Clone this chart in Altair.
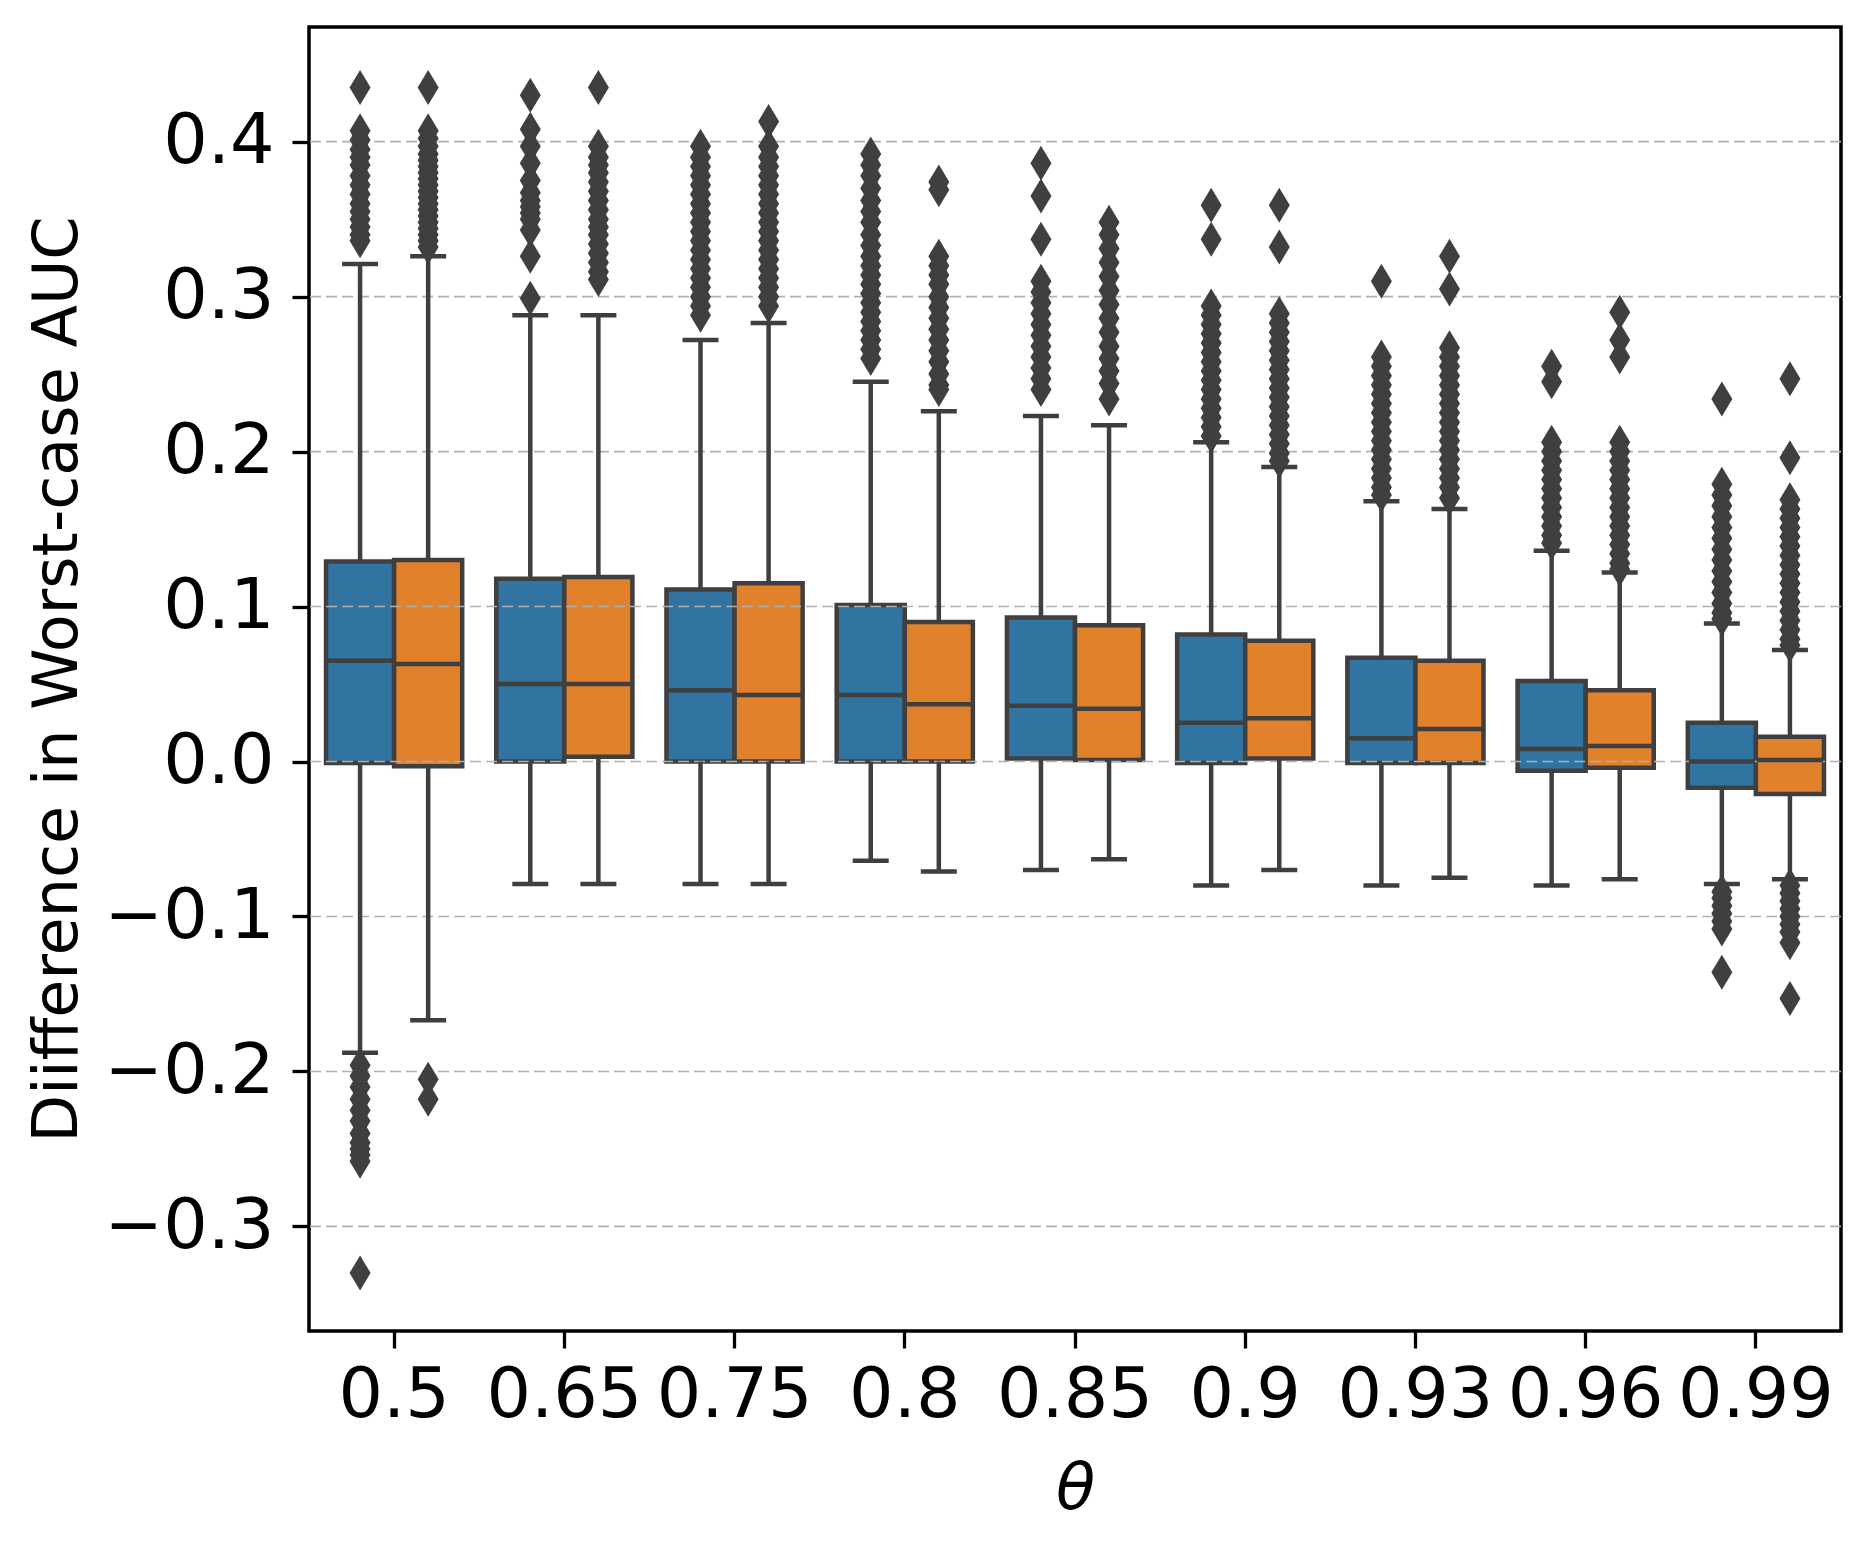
import altair as alt
import pandas as pd

# categories
thetas = ["0.5", "0.65", "0.75", "0.8", "0.85", "0.9", "0.93", "0.96", "0.99"]
hues = ["Method A", "Method B"]
colors = ["#3274a1", "#e1812c"]

# box statistics, series A (blue)
a_q1 = [-0.001, 0.000, 0.000, 0.000, 0.002, -0.001, -0.001, -0.006, -0.017]
a_med = [0.065, 0.050, 0.046, 0.043, 0.036, 0.025, 0.015, 0.008, 0.000]
a_q3 = [0.129, 0.118, 0.111, 0.101, 0.093, 0.082, 0.067, 0.052, 0.025]
a_lo = [-0.188, -0.079, -0.079, -0.064, -0.070, -0.080, -0.080, -0.080, -0.079]
a_hi = [0.321, 0.288, 0.272, 0.245, 0.223, 0.206, 0.168, 0.136, 0.089]

# box statistics, series B (orange)
b_q1 = [-0.003, 0.003, 0.000, 0.000, 0.001, 0.002, -0.001, -0.004, -0.021]
b_med = [0.063, 0.050, 0.043, 0.037, 0.034, 0.028, 0.021, 0.010, 0.001]
b_q3 = [0.130, 0.119, 0.115, 0.090, 0.088, 0.078, 0.065, 0.046, 0.016]
b_lo = [-0.167, -0.079, -0.079, -0.071, -0.063, -0.070, -0.075, -0.076, -0.076]
b_hi = [0.326, 0.288, 0.283, 0.226, 0.217, 0.190, 0.163, 0.122, 0.072]

# outliers, series A
fa_050 = [0.435, 0.407, 0.401, 0.395, 0.39, 0.385, 0.378, 0.372, 0.366, 0.36, 0.355,
          0.35, 0.345, 0.34, 0.336, -0.196, -0.203, -0.21, -0.218, -0.225, -0.232,
          -0.24, -0.246, -0.25, -0.254, -0.258, -0.33]
fa_065 = [0.430, 0.408, 0.397, 0.386, 0.375, 0.367, 0.362, 0.358, 0.354, 0.35, 0.343,
          0.326, 0.299]
fa_075 = [0.397, 0.39, 0.384, 0.378, 0.372, 0.366, 0.36, 0.354, 0.348, 0.342, 0.336,
          0.33, 0.324, 0.318, 0.312, 0.306, 0.3, 0.294, 0.288]
fa_080 = [0.392, 0.385, 0.378, 0.37, 0.362, 0.355, 0.348, 0.34, 0.333, 0.326, 0.32,
          0.314, 0.308, 0.302, 0.296, 0.29, 0.284, 0.278, 0.272, 0.266, 0.26]
fa_085 = [0.386, 0.365, 0.337, 0.31, 0.303, 0.296, 0.289, 0.282, 0.275, 0.268, 0.261,
          0.254, 0.247, 0.24]
fa_090 = [0.359, 0.337, 0.294, 0.288, 0.282, 0.276, 0.27, 0.264, 0.258, 0.252, 0.246,
          0.24, 0.234, 0.228, 0.222, 0.216, 0.21]
fa_093 = [0.31, 0.261, 0.255, 0.249, 0.243, 0.237, 0.231, 0.225, 0.219, 0.213, 0.207,
          0.201, 0.195, 0.189, 0.183, 0.177, 0.172]
fa_096 = [0.255, 0.245, 0.206, 0.2, 0.194, 0.188, 0.182, 0.176, 0.17, 0.164, 0.158,
          0.152, 0.146, 0.141]
fa_099 = [0.234, 0.179, 0.172, 0.165, 0.158, 0.151, 0.144, 0.137, 0.13, 0.123, 0.116,
          0.109, 0.102, 0.096, 0.092, -0.084, -0.088, -0.093, -0.098, -0.103, -0.108,
          -0.136]

# outliers, series B
fb_050 = [0.435, 0.407, 0.402, 0.397, 0.392, 0.388, 0.384, 0.38, 0.376, 0.372, 0.368,
          0.364, 0.36, 0.356, 0.352, 0.348, 0.344, 0.34, 0.336, 0.332, -0.205, -0.218]
fb_065 = [0.435, 0.397, 0.39, 0.385, 0.38, 0.374, 0.368, 0.362, 0.356, 0.35, 0.345,
          0.34, 0.334, 0.328, 0.322, 0.316, 0.311]
fb_075 = [0.413, 0.397, 0.39, 0.384, 0.378, 0.372, 0.366, 0.36, 0.354, 0.348, 0.342,
          0.336, 0.33, 0.324, 0.318, 0.312, 0.306, 0.3, 0.294]
fb_080 = [0.374, 0.369, 0.326, 0.32, 0.314, 0.308, 0.3, 0.293, 0.286, 0.279, 0.272,
          0.265, 0.258, 0.25, 0.243, 0.24]
fb_085 = [0.348, 0.34, 0.331, 0.322, 0.313, 0.304, 0.295, 0.286, 0.277, 0.268, 0.26,
          0.252, 0.244, 0.234]
fb_090 = [0.359, 0.332, 0.289, 0.283, 0.277, 0.271, 0.265, 0.259, 0.253, 0.247, 0.241,
          0.235, 0.229, 0.223, 0.217, 0.211, 0.205, 0.199, 0.194]
fb_093 = [0.326, 0.305, 0.267, 0.261, 0.255, 0.249, 0.243, 0.237, 0.231, 0.225, 0.219,
          0.213, 0.207, 0.201, 0.195, 0.189, 0.183, 0.177, 0.17]
fb_096 = [0.29, 0.272, 0.261, 0.206, 0.2, 0.194, 0.188, 0.182, 0.176, 0.17, 0.164,
          0.158, 0.152, 0.146, 0.14, 0.134, 0.128, 0.124]
fb_099 = [0.247, 0.196, 0.169, 0.163, 0.157, 0.151, 0.145, 0.139, 0.133, 0.127, 0.121,
          0.115, 0.109, 0.103, 0.097, 0.091, 0.085, 0.079, 0.075, -0.08, -0.085,
          -0.09, -0.095, -0.1, -0.105, -0.11, -0.117, -0.153]

y_ticks = [-0.3, -0.2, -0.1, 0.0, 0.1, 0.2, 0.3, 0.4]

# ---- build tables ----
rows = []
for i, t in enumerate(thetas):
    rows.append(dict(theta=t, hue=hues[0], q1=a_q1[i], med=a_med[i], q3=a_q3[i],
                     lo=a_lo[i], hi=a_hi[i]))
    rows.append(dict(theta=t, hue=hues[1], q1=b_q1[i], med=b_med[i], q3=b_q3[i],
                     lo=b_lo[i], hi=b_hi[i]))
stats = pd.DataFrame(rows)

fa = [fa_050, fa_065, fa_075, fa_080, fa_085, fa_090, fa_093, fa_096, fa_099]
fb = [fb_050, fb_065, fb_075, fb_080, fb_085, fb_090, fb_093, fb_096, fb_099]
frows = []
for i, t in enumerate(thetas):
    for v in fa[i]:
        frows.append(dict(theta=t, hue=hues[0], v=v))
    for v in fb[i]:
        frows.append(dict(theta=t, hue=hues[1], v=v))
fliers = pd.DataFrame(frows)
grid = pd.DataFrame({"g": y_ticks})

DARK = "#3f3f3f"
FONT = "DejaVu Sans"
W, H = 1532, 1304
LW = 4.5

xaxis = alt.Axis(title="θ", labelAngle=0, labelFontSize=70, labelFont=FONT,
                 labelColor="black", labelPadding=13, labelOverlap=False,
                 labelBound=False, labelFlush=False,
                 tickSize=17, tickWidth=3.3, tickColor="black",
                 domain=False, grid=False,
                 titleFont=FONT, titleFontSize=64, titleFontStyle="italic",
                 titleFontWeight="normal", titleColor="black",
                 titleX=W / 2, titleY=177, titleBaseline="alphabetic",
                 titleAlign="center")
xs = alt.X("theta:N", sort=thetas,
           scale=alt.Scale(paddingInner=0, paddingOuter=0), axis=xaxis)
xo = alt.XOffset("hue:N", sort=hues,
                 scale=alt.Scale(domain=hues, paddingInner=0, paddingOuter=0.25))
yscale = alt.Scale(domain=[-0.3675, 0.474], nice=False, zero=False)
yaxis = alt.Axis(title="Diifference in Worst-case AUC", values=y_ticks, format=".1f",
                 labelFontSize=70, labelFont=FONT, labelColor="black",
                 labelPadding=18, tickSize=17, tickWidth=3.3, tickColor="black",
                 domain=False, grid=False,
                 titleFont=FONT, titleFontSize=62, titleFontWeight="normal",
                 titleColor="black", titleX=-233, titleY=H / 2,
                 titleBaseline="alphabetic", titleAlign="center", titleAngle=-90)


def Y(field):
    return alt.Y(field, scale=yscale, axis=yaxis)


base = alt.Chart(stats)

boxes = base.mark_bar(stroke=DARK, strokeWidth=LW, opacity=1).encode(
    x=xs, xOffset=xo,
    y=Y("q1:Q"),
    y2="q3:Q",
    color=alt.Color("hue:N", scale=alt.Scale(domain=hues, range=colors), legend=None),
)

gridlines = alt.Chart(grid).mark_rule(color="#b0b0b0", strokeWidth=1.6,
                                      strokeDash=[11, 5]).encode(
    y=Y("g:Q")
)

wlow = base.mark_rule(color=DARK, strokeWidth=LW).encode(
    x=xs, xOffset=xo, y=Y("lo:Q"), y2="q1:Q")
whigh = base.mark_rule(color=DARK, strokeWidth=LW).encode(
    x=xs, xOffset=xo, y=Y("q3:Q"), y2="hi:Q")
caplo = base.mark_tick(color=DARK, size=36, thickness=LW, opacity=1,
                       orient="horizontal").encode(
    x=xs, xOffset=xo, y=Y("lo:Q"))
caphi = base.mark_tick(color=DARK, size=36, thickness=LW, opacity=1,
                       orient="horizontal").encode(
    x=xs, xOffset=xo, y=Y("hi:Q"))
medians = base.mark_tick(color=DARK, size=66, thickness=LW, opacity=1,
                         orient="horizontal").encode(
    x=xs, xOffset=xo, y=Y("med:Q"))

points = alt.Chart(fliers).mark_point(
    shape="M0,-1L0.6,0L0,1L-0.6,0Z", filled=True, color=DARK, opacity=1,
    size=1225, strokeWidth=0).encode(
    x=xs, xOffset=xo, y=Y("v:Q"))

chart = alt.layer(boxes, gridlines, wlow, whigh, caplo, caphi, medians, points).properties(
    width=W, height=H,
    autosize=alt.AutoSizeParams(type="none"),
    padding={"left": 301, "top": 19, "right": 20, "bottom": 205},
    background="white",
).configure_view(stroke="black", strokeWidth=3.5)

chart.save("out.html", embed_options={"renderer": "svg", "actions": False})
